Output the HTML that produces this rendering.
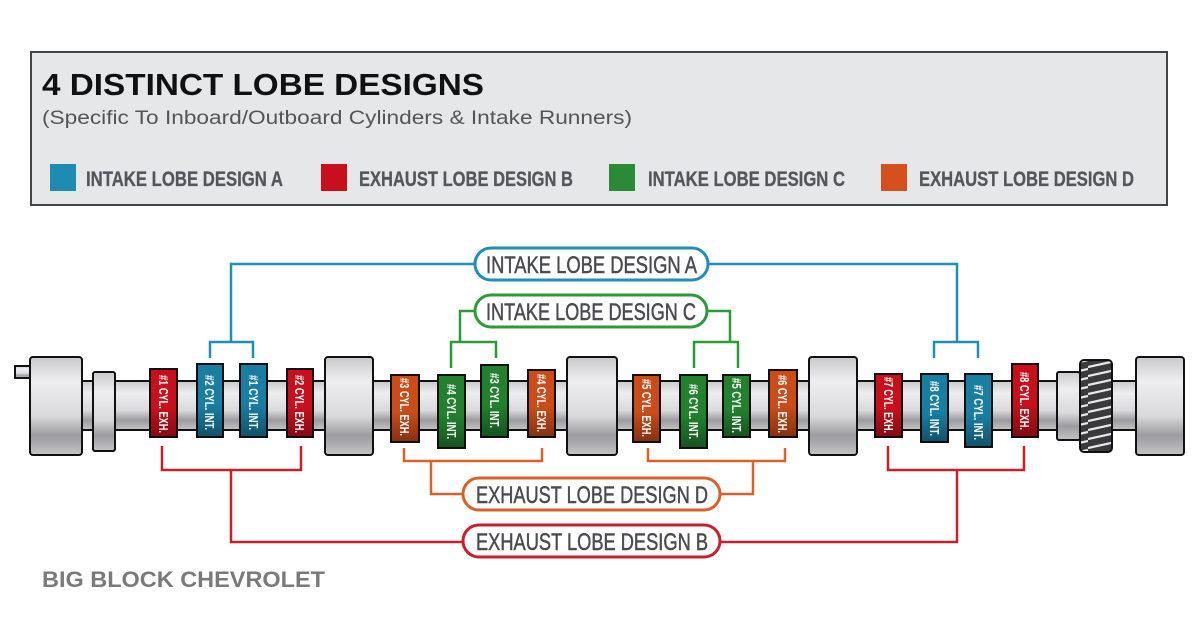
<!DOCTYPE html>
<html><head><meta charset="utf-8"><style>
html,body{margin:0;padding:0;background:#fff;}
svg{display:block;font-family:"Liberation Sans",sans-serif;}
.lb{fill:#fff;font-weight:bold;font-size:13px;}
.pl{fill:#4a4b50;font-size:24px;stroke:#4a4b50;stroke-width:0.5;}
.lg{fill:#54565b;font-weight:bold;font-size:21px;stroke:#54565b;stroke-width:0.3;}
</style></head><body>
<svg width="1200" height="621" viewBox="0 0 1200 621" xmlns="http://www.w3.org/2000/svg">
<defs>
<linearGradient id="m" x1="0" y1="0" x2="0" y2="1">
<stop offset="0" stop-color="#c9c9cc"/><stop offset="0.25" stop-color="#eeeef0"/><stop offset="0.6" stop-color="#dadadc"/><stop offset="0.8" stop-color="#9c9ca0"/><stop offset="1" stop-color="#c4c4c7"/>
</linearGradient>
<linearGradient id="sh" x1="0" y1="0" x2="0" y2="1">
<stop offset="0" stop-color="#000" stop-opacity="0"/><stop offset="0.55" stop-color="#000" stop-opacity="0"/><stop offset="1" stop-color="#000" stop-opacity="0.35"/>
</linearGradient>
<pattern id="gear" width="32" height="9" patternUnits="userSpaceOnUse">
<rect width="32" height="9" fill="#3a3a3c"/>
<path d="M0 7 L32 0" stroke="#e8e8ea" stroke-width="2.2"/>
<path d="M0 16 L32 9" stroke="#e8e8ea" stroke-width="2.2"/>
</pattern>
</defs>

<rect x="31" y="52" width="1136" height="153" fill="#e6e7e9" stroke="#444" stroke-width="2"/>
<text x="42" y="95" font-size="31" font-weight="bold" fill="#111" textLength="442" lengthAdjust="spacingAndGlyphs">4 DISTINCT LOBE DESIGNS</text>
<text x="42" y="124" font-size="19" fill="#555" textLength="590" lengthAdjust="spacingAndGlyphs">(Specific To Inboard/Outboard Cylinders &amp; Intake Runners)</text>
<rect x="50" y="164" width="26" height="27" fill="#1f8bb0"/>
<text class="lg" x="86" y="186" textLength="197" lengthAdjust="spacingAndGlyphs">INTAKE LOBE DESIGN A</text>
<rect x="321" y="164" width="26" height="27" fill="#c8101c"/>
<text class="lg" x="359" y="186" textLength="214" lengthAdjust="spacingAndGlyphs">EXHAUST LOBE DESIGN B</text>
<rect x="609" y="164" width="26" height="27" fill="#2a8a35"/>
<text class="lg" x="648" y="186" textLength="197" lengthAdjust="spacingAndGlyphs">INTAKE LOBE DESIGN C</text>
<rect x="881" y="164" width="26" height="27" fill="#d4511e"/>
<text class="lg" x="919" y="186" textLength="215" lengthAdjust="spacingAndGlyphs">EXHAUST LOBE DESIGN D</text>

<g fill="none" stroke-width="2.5">
<g stroke="#1f8fb4">
<path d="M231 342 V264 H957 V342"/>
<path d="M210 358 V342 H253 V358"/>
<path d="M934 358 V342 H978 V358"/>
</g>
<g stroke="#2d9a3a">
<path d="M460 342 V311 H730 V342"/>
<path d="M451 368 V342 H496 V358"/>
<path d="M694 368 V342 H738 V368"/>
</g>
<g stroke="#d9622a">
<path d="M404 448 V461 H542 V448"/>
<path d="M648 448 V461 H785 V448"/>
<path d="M431 461 V494 H753 V461"/>
</g>
<g stroke="#c8202a">
<path d="M162 446 V470 H301 V446"/>
<path d="M888 446 V470 H1024 V446"/>
<path d="M231 470 V542 H957 V470"/>
</g>
</g>
<g stroke-width="3" fill="#fff">
<rect x="475" y="248" width="233" height="32" rx="16" stroke="#1f8fb4"/>
<rect x="475" y="295" width="232" height="32" rx="16" stroke="#2d9a3a"/>
<rect x="463" y="478" width="257" height="32" rx="16" stroke="#d9622a"/>
<rect x="463" y="525" width="257" height="32" rx="16" stroke="#c8202a"/>
</g>
<text class="pl" x="486" y="273" textLength="211" lengthAdjust="spacingAndGlyphs">INTAKE LOBE DESIGN A</text>
<text class="pl" x="486" y="320" textLength="210" lengthAdjust="spacingAndGlyphs">INTAKE LOBE DESIGN C</text>
<text class="pl" x="476" y="503" textLength="232" lengthAdjust="spacingAndGlyphs">EXHAUST LOBE DESIGN D</text>
<text class="pl" x="476" y="550" textLength="232" lengthAdjust="spacingAndGlyphs">EXHAUST LOBE DESIGN B</text>

<g stroke="#111" stroke-width="2">
<rect x="15" y="366" width="17" height="12" fill="url(#m)"/>
<rect x="30" y="381" width="1150" height="49" fill="url(#m)"/>
<rect x="30" y="357" width="52" height="98" rx="3" fill="url(#m)"/>
<rect x="93" y="372" width="22" height="79" rx="2" fill="url(#m)"/>
<rect x="325" y="357" width="48" height="98" rx="3" fill="url(#m)"/>
<rect x="567" y="357" width="50" height="98" rx="3" fill="url(#m)"/>
<rect x="809" y="357" width="48" height="98" rx="3" fill="url(#m)"/>
<rect x="1057" y="372" width="23" height="68" rx="2" fill="url(#m)"/>
<rect x="1080" y="360" width="32" height="92" rx="4" fill="url(#gear)"/>
<rect x="1136" y="357" width="48" height="98" rx="3" fill="url(#m)"/>
</g>

<g stroke="#111" stroke-width="2">
<rect x="150" y="369" width="27" height="68" fill="#c8101c"/>
<rect x="197" y="364" width="26" height="73" fill="#1a7ea3"/>
<rect x="240" y="364" width="27" height="73" fill="#1a7ea3"/>
<rect x="287" y="369" width="26" height="68" fill="#c8101c"/>
<rect x="391" y="375" width="28" height="67" fill="#c94c1a"/>
<rect x="438" y="375" width="27" height="73" fill="#22802f"/>
<rect x="481" y="365" width="27" height="72" fill="#22802f"/>
<rect x="528" y="370" width="27" height="67" fill="#c94c1a"/>
<rect x="633" y="375" width="27" height="67" fill="#c94c1a"/>
<rect x="680" y="375" width="27" height="73" fill="#22802f"/>
<rect x="723" y="375" width="27" height="62" fill="#22802f"/>
<rect x="769" y="370" width="28" height="67" fill="#c94c1a"/>
<rect x="875" y="374" width="27" height="63" fill="#c8101c"/>
<rect x="921" y="374" width="27" height="68" fill="#1a7ea3"/>
<rect x="965" y="374" width="27" height="73" fill="#1a7ea3"/>
<rect x="1012" y="364" width="26" height="73" fill="#c8101c"/>
</g>
<g>
<rect x="150" y="369" width="27" height="68" fill="url(#sh)"/>
<rect x="197" y="364" width="26" height="73" fill="url(#sh)"/>
<rect x="240" y="364" width="27" height="73" fill="url(#sh)"/>
<rect x="287" y="369" width="26" height="68" fill="url(#sh)"/>
<rect x="391" y="375" width="28" height="67" fill="url(#sh)"/>
<rect x="438" y="375" width="27" height="73" fill="url(#sh)"/>
<rect x="481" y="365" width="27" height="72" fill="url(#sh)"/>
<rect x="528" y="370" width="27" height="67" fill="url(#sh)"/>
<rect x="633" y="375" width="27" height="67" fill="url(#sh)"/>
<rect x="680" y="375" width="27" height="73" fill="url(#sh)"/>
<rect x="723" y="375" width="27" height="62" fill="url(#sh)"/>
<rect x="769" y="370" width="28" height="67" fill="url(#sh)"/>
<rect x="875" y="374" width="27" height="63" fill="url(#sh)"/>
<rect x="921" y="374" width="27" height="68" fill="url(#sh)"/>
<rect x="965" y="374" width="27" height="73" fill="url(#sh)"/>
<rect x="1012" y="364" width="26" height="73" fill="url(#sh)"/>
</g>
<g class="lb">
<text transform="translate(159,375) rotate(90)" textLength="58" lengthAdjust="spacingAndGlyphs">#1 CYL. EXH.</text>
<text transform="translate(205,375) rotate(90)" textLength="55" lengthAdjust="spacingAndGlyphs">#2 CYL. INT.</text>
<text transform="translate(249,375) rotate(90)" textLength="55" lengthAdjust="spacingAndGlyphs">#1 CYL. INT.</text>
<text transform="translate(295,375) rotate(90)" textLength="58" lengthAdjust="spacingAndGlyphs">#2 CYL. EXH.</text>
<text transform="translate(400,378) rotate(90)" textLength="58" lengthAdjust="spacingAndGlyphs">#3 CYL. EXH.</text>
<text transform="translate(447,384) rotate(90)" textLength="55" lengthAdjust="spacingAndGlyphs">#4 CYL. INT.</text>
<text transform="translate(490,373) rotate(90)" textLength="55" lengthAdjust="spacingAndGlyphs">#3 CYL. INT.</text>
<text transform="translate(537,374) rotate(90)" textLength="58" lengthAdjust="spacingAndGlyphs">#4 CYL. EXH.</text>
<text transform="translate(642,379) rotate(90)" textLength="58" lengthAdjust="spacingAndGlyphs">#5 CYL. EXH.</text>
<text transform="translate(689,384) rotate(90)" textLength="55" lengthAdjust="spacingAndGlyphs">#6 CYL. INT.</text>
<text transform="translate(732,378) rotate(90)" textLength="55" lengthAdjust="spacingAndGlyphs">#5 CYL. INT.</text>
<text transform="translate(778,375) rotate(90)" textLength="58" lengthAdjust="spacingAndGlyphs">#6 CYL. EXH.</text>
<text transform="translate(884,377) rotate(90)" textLength="56" lengthAdjust="spacingAndGlyphs">#7 CYL. EXH.</text>
<text transform="translate(930,381) rotate(90)" textLength="55" lengthAdjust="spacingAndGlyphs">#8 CYL. INT.</text>
<text transform="translate(974,385) rotate(90)" textLength="55" lengthAdjust="spacingAndGlyphs">#7 CYL. INT.</text>
<text transform="translate(1020,372) rotate(90)" textLength="58" lengthAdjust="spacingAndGlyphs">#8 CYL. EXH.</text>
</g>

<text x="42" y="587" font-size="22" font-weight="bold" fill="#7a7a7c" textLength="283" lengthAdjust="spacingAndGlyphs">BIG BLOCK CHEVROLET</text>
</svg>
</body></html>
